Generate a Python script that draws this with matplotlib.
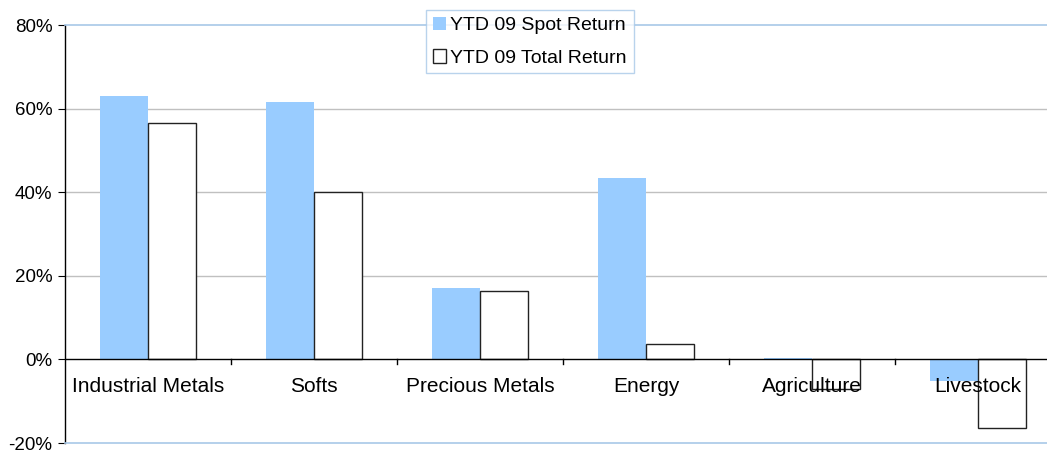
import matplotlib.pyplot as plt
import numpy as np

plt.rcParams['font.family'] = ['Liberation Sans', 'DejaVu Sans']

categories = ['Industrial Metals', 'Softs', 'Precious Metals', 'Energy', 'Agriculture', 'Livestock']
spot_return = [62.9, 61.5, 17.2, 43.5, 0.3, -5.2]
total_return = [56.6, 40.1, 16.3, 3.6, -7.0, -16.5]
y_ticks = [-20, 0, 20, 40, 60, 80]


def main():
    fig = plt.figure(figsize=(10.47, 4.53), dpi=100)
    # the plot area runs a little past the right edge of the image
    ax = fig.add_axes([65 / 1047, 1 - 443 / 453, 996 / 1047, 418 / 453])

    x = np.arange(len(categories))
    w = 0.29
    ax.bar(x - w / 2, spot_return, w, color='#99ccff', linewidth=0,
           label='YTD 09 Spot Return', zorder=2)
    ax.bar(x + w / 2, total_return, w, color='white', edgecolor='#222222',
           linewidth=1.0, label='YTD 09 Total Return', zorder=2)

    ax.set_xlim(-0.5, len(categories) - 0.5)
    ax.set_ylim(-20, 80)
    ax.set_yticks(y_ticks)
    ax.set_yticklabels([f'{t}%' for t in y_ticks], fontsize=13.5)
    ax.tick_params(axis='y', length=5, width=0.8, color='black', pad=4)

    for t in [20, 40, 60]:
        ax.axhline(t, color='#c0c0c0', linewidth=1.0, zorder=1)

    # category axis sits on the 0% line, ticks between groups
    ax.axhline(0, color='black', linewidth=1.0, zorder=3)
    for b in x[:-1] + 0.5:
        ax.plot([b, b], [0, -1.0], color='black', linewidth=1.0, zorder=3)
    ax.set_xticks([])
    for i, name in enumerate(categories):
        ax.text(i, -6.5, name, ha='center', va='center', fontsize=15, zorder=4)

    for side in ['top', 'bottom']:
        ax.spines[side].set_color('#a8c8e8')
        ax.spines[side].set_linewidth(1.2)
    ax.spines['right'].set_visible(False)
    ax.spines['left'].set_color('black')
    ax.spines['left'].set_linewidth(1.0)

    leg = ax.legend(loc='upper left', bbox_to_anchor=((426 - 65) / 996, 1 + 15 / 418),
                    fontsize=14, frameon=True, fancybox=False, borderpad=0.35,
                    handlelength=0.7, handleheight=0.7, handletextpad=0.2,
                    labelspacing=0.75, borderaxespad=0)
    leg.get_frame().set_edgecolor('#a8c8e8')
    leg.get_frame().set_linewidth(1.0)
    leg.set_zorder(5)

    fig.savefig('out.png', dpi=100)


if __name__ == "__main__":
    main()
